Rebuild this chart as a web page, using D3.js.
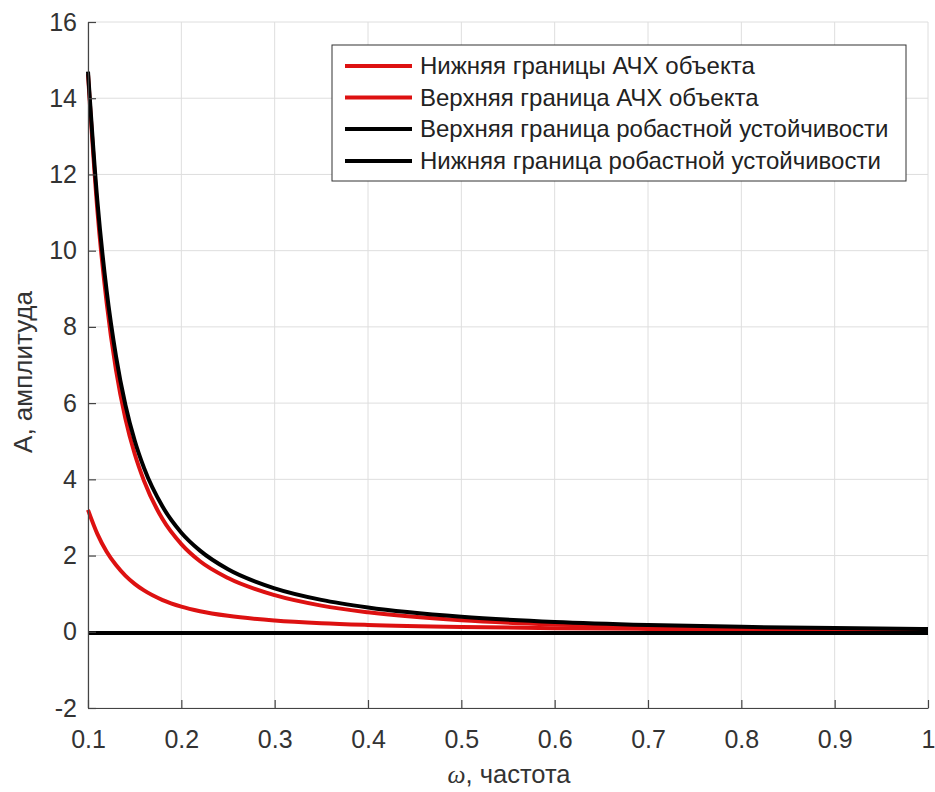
<!DOCTYPE html>
<html><head><meta charset="utf-8">
<script src="https://cdn.jsdelivr.net/npm/d3@7"></script>
<style>body{margin:0;background:#fff;} svg{display:block;}</style>
</head><body>
<svg id="c" width="935" height="792"></svg>
<script>
const omega      = [0.1, 0.11, 0.12, 0.13, 0.14, 0.15, 0.16, 0.18, 0.2, 0.22, 0.25, 0.3, 0.35, 0.4, 0.5, 0.6, 0.7, 0.8, 0.9, 1.0];
const lowerObj   = [3.2, 2.57, 2.10, 1.75, 1.475, 1.258, 1.085, 0.832, 0.66, 0.54, 0.418, 0.296, 0.224, 0.179, 0.125, 0.095, 0.076, 0.062, 0.052, 0.044];
const upperObj   = [14.63, 11.08, 8.63, 6.87, 5.60, 4.67, 3.96, 2.95, 2.30, 1.85, 1.41, 0.96, 0.686, 0.51, 0.30, 0.194, 0.136, 0.10, 0.076, 0.059];
const upperRob   = [14.7, 11.31, 8.94, 7.23, 5.96, 5.02, 4.30, 3.28, 2.60, 2.13, 1.64, 1.14, 0.837, 0.637, 0.394, 0.259, 0.179, 0.129, 0.096, 0.074];
const lowerRob   = [-0.03, -0.03, -0.03, -0.03, -0.03, -0.03, -0.03, -0.03, -0.03, -0.03, -0.03, -0.03, -0.03, -0.03, -0.03, -0.03, -0.03, -0.03, -0.03, -0.03];
const xTicks = [0.1, 0.2, 0.3, 0.4, 0.5, 0.6, 0.7, 0.8, 0.9, 1];
const yTicks = [-2, 0, 2, 4, 6, 8, 10, 12, 14, 16];
const seriesNames = ["Нижняя границы АЧХ объекта", "Верхняя граница АЧХ объекта", "Верхняя граница робастной устойчивости", "Нижняя граница робастной устойчивости"];
const seriesColors = ["#dd1111", "#dd1111", "#000000", "#000000"];
const seriesData = [lowerObj, upperObj, upperRob, lowerRob];

const svg = d3.select("#c");
const L = 88, R = 928, T = 22, B = 708;
const x = d3.scaleLinear().domain([0.1, 1]).range([L, R]);
const y = d3.scaleLinear().domain([-2, 16]).range([B, T]);
const font = "'Liberation Sans', Arial, sans-serif";

// grid
const g = svg.append("g");
g.selectAll(".gx").data(xTicks).enter().append("line")
  .attr("x1", d => x(d)).attr("x2", d => x(d)).attr("y1", T).attr("y2", B)
  .attr("stroke", "#dedede").attr("stroke-width", 1);
g.selectAll(".gy").data(yTicks).enter().append("line")
  .attr("x1", L).attr("x2", R).attr("y1", d => y(d)).attr("y2", d => y(d))
  .attr("stroke", "#dedede").attr("stroke-width", 1);

// lines
const line = d3.line().x((d, i) => x(omega[i])).y(d => y(d)).curve(d3.curveMonotoneX);
seriesData.forEach((s, k) => {
  svg.append("path").attr("d", line(s)).attr("fill", "none")
    .attr("stroke", seriesColors[k]).attr("stroke-width", 4).attr("stroke-linejoin", "round");
});

// axes
const xAxis = d3.axisBottom(x).tickValues(xTicks).tickSizeInner(-8).tickSizeOuter(0).tickPadding(22)
  .tickFormat(d => d === 1 ? "1" : d3.format(".1f")(d));
const yAxis = d3.axisLeft(y).tickValues(yTicks).tickSizeInner(-8).tickSizeOuter(0).tickPadding(11)
  .tickFormat(d => d);
const ax = svg.append("g").attr("transform", `translate(0,${B})`).call(xAxis);
const ay = svg.append("g").attr("transform", `translate(${L},0)`).call(yAxis);
[ax, ay].forEach(a => {
  a.select(".domain").attr("stroke", "#444").attr("stroke-width", 1.2);
  a.selectAll(".tick line").attr("stroke", "#444").attr("stroke-width", 1.2);
  a.selectAll(".tick text").attr("fill", "#333").attr("font-family", font).attr("font-size", 25);
});

// axis labels
svg.append("text").attr("x", 509).attr("y", 783).attr("text-anchor", "middle")
  .attr("font-family", font).attr("font-size", 25.5).attr("fill", "#333")
  .call(t => { t.append("tspan").attr("font-style", "italic").attr("font-family", "'Liberation Serif', serif").text("ω");
               t.append("tspan").text(", частота"); });
svg.append("text").attr("transform", "translate(32,372) rotate(-90)").attr("text-anchor", "middle")
  .attr("font-family", font).attr("font-size", 26).attr("fill", "#333").text("A, амплитуда");

// legend
const lg = svg.append("g");
lg.append("rect").attr("x", 332).attr("y", 45).attr("width", 574).attr("height", 136)
  .attr("fill", "#fff").attr("stroke", "#333").attr("stroke-width", 1);
const rowY = [66, 97.5, 129, 161];
seriesNames.forEach((n, k) => {
  lg.append("line").attr("x1", 345).attr("x2", 412).attr("y1", rowY[k]).attr("y2", rowY[k])
    .attr("stroke", seriesColors[k]).attr("stroke-width", 4);
  lg.append("text").attr("x", 420).attr("y", rowY[k]).attr("dy", "0.35em")
    .attr("font-family", font).attr("font-size", 24).attr("fill", "#222").text(n);
});
</script>
</body></html>
